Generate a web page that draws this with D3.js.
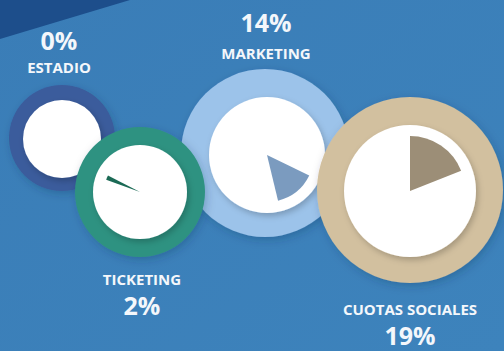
<!DOCTYPE html>
<html>
<head>
<meta charset="utf-8">
<script src="https://cdn.jsdelivr.net/npm/d3@7"></script>
<style>
  html, body { margin: 0; padding: 0; background: #3c81ba; }
  svg { display: block; }
  text { font-family: "Open Sans", "Noto Sans", sans-serif; font-weight: 700; fill: #f4f7fb; }
</style>
</head>
<body>
<script>
// ---- data ----
const categories = ["ESTADIO", "MARKETING", "TICKETING", "CUOTAS SOCIALES"];
const values = [0, 14, 2, 19];            // percent
const valueLabels = ["0%", "14%", "2%", "19%"];

// ---- layout (not data) ----
const W = 504, H = 351;
const layout = {
  "ESTADIO":         { cx: 62,  cy: 138, outer: 53, inner: 39, icx: 62,  icy: 139, wedgeR: 31, start: 0,   ring: "#3b5c9c", wedge: "#2c4a80", labelX: 59,  pctY: 50,  nameY: 73,  pctFirst: true },
  "MARKETING":       { cx: 265, cy: 153, outer: 84, inner: 58, icx: 267, icy: 155, wedgeR: 47, start: 116, ring: "#9cc3ea", wedge: "#7b9bbf", labelX: 266, pctY: 32,  nameY: 59,  pctFirst: true },
  "TICKETING":       { cx: 140, cy: 192, outer: 65, inner: 47, icx: 140, icy: 192, wedgeR: 36, start: 290, ring: "#2f9281", wedge: "#1b6a55", labelX: 142, pctY: 315, nameY: 285, pctFirst: false },
  "CUOTAS SOCIALES": { cx: 410, cy: 190, outer: 93, inner: 66, icx: 410, icy: 191, wedgeR: 55, start: 0,   ring: "#d2c09f", wedge: "#9c8e77", labelX: 410, pctY: 345, nameY: 315, pctFirst: false }
};
const drawOrder = ["ESTADIO", "MARKETING", "TICKETING", "CUOTAS SOCIALES"];

const svg = d3.select("body").append("svg").attr("width", W).attr("height", H);

const defs = svg.append("defs");
const f = defs.append("filter").attr("id", "sh").attr("x", "-30%").attr("y", "-30%").attr("width", "160%").attr("height", "160%");
f.append("feDropShadow").attr("dx", 2).attr("dy", 3).attr("stdDeviation", 3).attr("flood-color", "#000").attr("flood-opacity", 0.22);
const f2 = defs.append("filter").attr("id", "sh2").attr("x", "-30%").attr("y", "-30%").attr("width", "160%").attr("height", "160%");
f2.append("feDropShadow").attr("dx", 2).attr("dy", 3).attr("stdDeviation", 4).attr("flood-color", "#0a2a50").attr("flood-opacity", 0.25);

const bg = defs.append("linearGradient").attr("id", "bg").attr("x1", 0).attr("y1", 0).attr("x2", 1).attr("y2", 1);
bg.append("stop").attr("offset", 0).attr("stop-color", "#3a7db7");
bg.append("stop").attr("offset", 1).attr("stop-color", "#3d83bc");

svg.append("rect").attr("width", W).attr("height", H).attr("fill", "url(#bg)");

// dark corner triangle
svg.append("path")
  .attr("d", d3.line()([[0, 0], [130, 0], [0, 39]]) + "Z")
  .attr("fill", "#1d4e8b");

// angle scale: percent -> radians
const angle = d3.scaleLinear().domain([0, 100]).range([0, 2 * Math.PI]);
const arc = d3.arc().innerRadius(0);

drawOrder.forEach(name => {
  const i = categories.indexOf(name);
  const L = layout[name];
  const g = svg.append("g");
  g.append("circle").attr("cx", L.cx).attr("cy", L.cy).attr("r", L.outer)
    .attr("fill", L.ring).attr("filter", "url(#sh2)");
  g.append("circle").attr("cx", L.icx).attr("cy", L.icy).attr("r", L.inner)
    .attr("fill", "#ffffff").attr("filter", "url(#sh)");
  if (values[i] > 0) {
    const s = L.start * Math.PI / 180;
    g.append("path")
      .attr("transform", `translate(${L.icx},${L.icy})`)
      .attr("d", arc({ outerRadius: L.wedgeR, startAngle: s, endAngle: s + angle(values[i]) }))
      .attr("fill", L.wedge);
  }
});

// labels
categories.forEach((name, i) => {
  const L = layout[name];
  svg.append("text").attr("x", L.labelX).attr("y", L.pctY)
    .attr("text-anchor", "middle").attr("font-size", 25).text(valueLabels[i]);
  svg.append("text").attr("x", L.labelX).attr("y", L.nameY)
    .attr("text-anchor", "middle").attr("font-size", 15).text(name);
});
</script>
</body>
</html>
